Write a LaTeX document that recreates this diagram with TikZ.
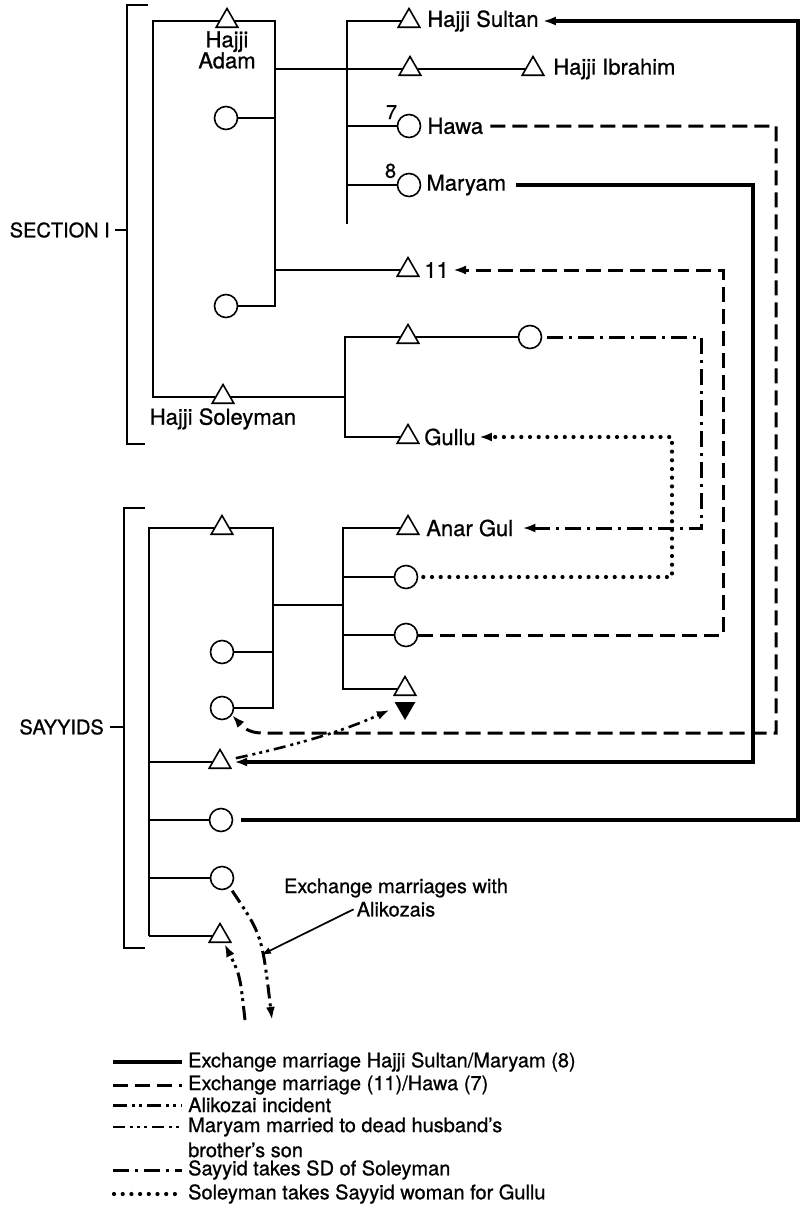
\documentclass[tikz,border=0pt]{standalone}
\usepackage{fontspec}
\setmainfont{TeX Gyre Heros}[FakeBold=0.8]
\usetikzlibrary{arrows.meta,positioning,shapes.geometric}
\tikzset{
  kin/.style={line width=1.7pt},
  male/.style={draw, line width=1.6pt, fill=white, regular polygon, regular polygon sides=3, minimum size=25pt, inner sep=0pt},
  female/.style={draw, line width=1.6pt, fill=white, circle, minimum size=23pt, inner sep=0pt},
  deadm/.style={fill, regular polygon, regular polygon sides=3, shape border rotate=180, minimum size=24pt, inner sep=0pt},
  lbl/.style={font=\fontsize{22}{21}\selectfont, inner sep=1pt},
  key/.style={font=\fontsize{20}{22}\selectfont, inner sep=0pt, anchor=west},
  arr/.style={-{Latex[length=13pt,width=9pt]}},
  exS/.style={line width=3.2pt},
  exD/.style={line width=3pt, dash pattern=on 15pt off 7pt},
  aliX/.style={line width=3pt, dash pattern=on 14pt off 5pt on 3pt off 4pt on 3pt off 5pt},
  lev/.style={line width=2.6pt, dash pattern=on 12pt off 5pt on 3pt off 4pt on 3pt off 4pt on 3pt off 5pt},
  sdx/.style={line width=3pt, dash pattern=on 16pt off 6pt on 3pt off 6pt},
  gul/.style={line width=4.2pt, line cap=round, dash pattern=on 0pt off 8.7pt},
}

\begin{document}
\begin{tikzpicture}[x=1pt,y=-1pt]
  \useasboundingbox (0,0) rectangle (800,1210);

  % section I
  \node[male] (adam) at (227,21) {};
  \node[lbl, align=center, below=2pt of adam] (adamT) {Hajji\\Adam};
  \node[female] (c1) at (226,118) {};
  \node[female] (c2) at (226,306) {};
  \node[male] (sol) at (223,397) {};
  \node[lbl, below=3pt of sol] (solT) {Hajji Soleyman};
  \node[male] (sultan) at (409,21) {};
  \node[lbl, right=9pt of sultan] (sultanT) {Hajji Sultan};
  \node[male] (adamSon) at (410,69) {};
  \node[male] (ibrahim) at (533,69) {};
  \node[lbl, right=11pt of ibrahim] (ibrahimT) {Hajji Ibrahim};
  \node[female] (hawa) at (409,126) {};
  \node[lbl, right=5pt of hawa] (hawaT) {Hawa};
  \node[key, anchor=south east, xshift=-3pt, yshift=-2pt] (n7) at (hawa.north west) {7};
  \node[female] (maryam) at (409,185) {};
  \node[lbl, right=4pt of maryam] (maryamT) {Maryam};
  \node[key, anchor=south east, xshift=-4pt, yshift=-2pt] (n8) at (maryam.north west) {8};
  \node[male] (eleven) at (408,270) {};
  \node[lbl, right=7pt of eleven] (elevenT) {11};
  \node[male] (solSon) at (408,337) {};
  \node[female] (solSD) at (530,337) {};
  \node[male] (gullu) at (408,437) {};
  \node[lbl, right=7pt of gullu] (gulluT) {Gullu};

  % sayyids
  \node[male] (sa) at (222,528) {};
  \node[female] (sc1) at (222,652) {};
  \node[female] (sc2) at (222,708) {};
  \node[male] (anar) at (408,528) {};
  \node[lbl, right=9pt of anar] (anarT) {Anar Gul};
  \node[female] (sc3) at (406,577) {};
  \node[female] (sc4) at (406,635) {};
  \node[male] (sd) at (405,689) {};
  \node[deadm] (sdx) at (405,708) {};
  \node[male] (st2) at (220,762) {};
  \node[female] (sc5) at (221,820) {};
  \node[female] (sc6) at (222,878) {};
  \node[male] (st3) at (220,936) {};

  \coordinate (aTL) at (153,21);
  \coordinate (aBL) at (153,397);
  \coordinate (aTR) at (275,21);
  \coordinate (aBR) at (275,306);
  \coordinate (sibT) at (347,21);
  \coordinate (sibB) at (347,224);
  \coordinate (solR) at (345,397);
  \coordinate (sayT) at (149,528);
  \coordinate (sayB) at (149,936);
  \coordinate (saR) at (273,528);
  \coordinate (sayMid) at (343,605);

  % descent lines
  \draw[kin] (sol) -- (aBL) -- (aTL) -- (adam);
  \draw[kin] (adam) -- (aTR) -- (aBR) -- (c2);
  \draw[kin] (c1) -- (c1 -| aTR);
  \draw[kin] (adamSon -| aTR) -- (adamSon) -- (ibrahim);
  \draw[kin] (eleven -| aTR) -- (eleven);
  \draw[kin] (sibB) -- (sibT) -- (sultan);
  \draw[kin] (hawa -| sibT) -- (hawa);
  \draw[kin] (maryam -| sibT) -- (maryam);
  \draw[kin] (sol) -- (solR);
  \draw[kin] (solSon) -- (solSon -| solR) -- (gullu -| solR) -- (gullu);
  \draw[kin] (solSon) -- (solSD);

  \draw[kin] (sayB) -- (sayT) -- (sa);
  \draw[kin] (sa) -- (saR) -- (sc2 -| saR) -- (sc2);
  \draw[kin] (sc1) -- (sc1 -| saR);
  \draw[kin] (sayMid -| saR) -- (sayMid);
  \draw[kin] (anar) -- (anar -| sayMid) -- (sd -| sayMid) -- (sd);
  \draw[kin] (sc3) -- (sc3 -| sayMid);
  \draw[kin] (sc4) -- (sc4 -| sayMid);
  \draw[kin] (st2 -| sayT) -- (st2);
  \draw[kin] (sc5 -| sayT) -- (sc5);
  \draw[kin] (sc6 -| sayT) -- (sc6);
  \draw[kin] (sayB) -- (st3);

  % brackets
  \coordinate (bk1T) at (127,5);
  \coordinate (bk1B) at (127,444);
  \coordinate (bk2T) at (124,508);
  \coordinate (bk2B) at (124,948);
  \draw[kin] ([xshift=21pt]bk1T) -- (bk1T) -- (bk1B) -- ([xshift=18pt]bk1B);
  \draw[kin] ([xshift=21pt]bk2T) -- (bk2T) -- (bk2B) -- ([xshift=21pt]bk2B);
  \node[key, anchor=east] (secI) at (110,230) {SECTION I};
  \draw[kin] ([xshift=5pt]secI.east) -- (secI -| bk1T);
  \node[key, anchor=east] (sayL) at (104,727) {SAYYIDS};
  \draw[kin] ([xshift=6pt]sayL.east) -- (sayL -| bk2T);

  % exchanges
  \coordinate (colM) at (753,762);
  \coordinate (colS) at (798,820);
  \coordinate (colH) at (776,733);
  \coordinate (bendH) at (262,733);
  \coordinate (col11) at (723,270);
  \coordinate (colA) at (701,528);
  \coordinate (colG) at (672,437);
  \draw[exS, arr, shorten <=9pt, shorten >=6pt] (maryamT) -| (colM) -- (st2);
  \draw[exS, arr, shorten <=8pt, shorten >=3pt] (sc5) -- (colS) |- (sultanT);
  \draw[exD, arr, shorten <=6pt] (hawaT) -| (colH) -- (bendH) .. controls (248,733) and (242,726) .. (sc2.-35);
  \draw[exD, arr, shorten >=3pt] (sc4) -| (col11) -- (elevenT);
  \draw[sdx, arr, shorten <=5pt, shorten >=8pt] (solSD) -| (colA) -- (anarT);
  \draw[gul, arr, shorten <=5pt, shorten >=2pt] (sc3) -| (colG) -- (gulluT);
  \draw[lev, arr, shorten <=9pt, shorten >=8pt] (st2.15) .. controls (310,742) and (350,728) .. (sdx.170);

  % alikozais
  \coordinate (aliOut) at (272,1020);
  \coordinate (aliIn) at (245,1020);
  \coordinate (aliTip) at (261,955);
  \draw[aliX, arr, shorten <=4pt] (sc6.-50) .. controls (262,935) .. (aliOut);
  \draw[aliX, arr, shorten >=1pt] (aliIn) .. controls (240,975) .. (st3.-60);
  \node[key, anchor=center] (aliT1) at (396,888) {Exchange marriages with};
  \node[key, below=4pt of aliT1] (aliT2) {Alikozais};
  \draw[kin, -{Latex[length=10pt,width=7pt]}] ([xshift=-3pt]aliT2.west) -- (aliTip);

  % legend
  \node[key] (lg1) at (188,1062) {Exchange marriage Hajji Sultan/Maryam (8)};
  \node[key] (lg2) at (188,1085) {Exchange marriage (11)/Hawa (7)};
  \node[key] (lg3) at (188,1105) {Alikozai incident};
  \node[key] (lg4) at (188,1127) {Maryam married to dead husband’s};
  \node[key] (lg4b) at (188,1150) {brother’s son};
  \node[key] (lg5) at (188,1170) {Sayyid takes SD of Soleyman};
  \node[key] (lg6) at (188,1194) {Soleyman takes Sayyid woman for Gullu};
  \draw[exS] ([xshift=-75pt]lg1.west) -- ([xshift=-6pt]lg1.west);
  \draw[exD] ([xshift=-75pt]lg2.west) -- ([xshift=-6pt]lg2.west);
  \draw[aliX] ([xshift=-75pt]lg3.west) -- ([xshift=-6pt]lg3.west);
  \draw[lev] ([xshift=-75pt]lg4.west) -- ([xshift=-6pt]lg4.west);
  \draw[sdx] ([xshift=-75pt]lg5.west) -- ([xshift=-6pt]lg5.west);
  \draw[gul] ([xshift=-74pt]lg6.west) -- ([xshift=-6pt]lg6.west);
\end{tikzpicture}
\end{document}
